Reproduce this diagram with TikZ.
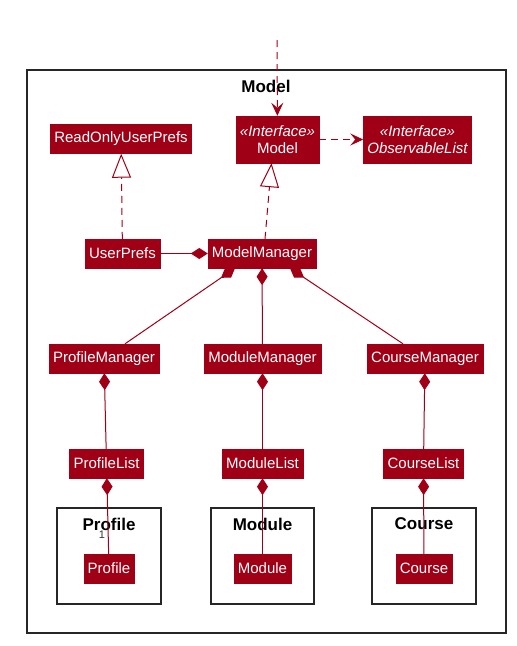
\documentclass[tikz,border=0pt]{standalone}
\usepackage{fontspec}
\setmainfont{Liberation Sans}
\usetikzlibrary{arrows.meta}
\definecolor{modellrot}{HTML}{A00016}

\begin{document}
\begin{tikzpicture}[x=1pt,y=-1pt,
        klasse/.style={fill=modellrot,draw=modellrot,text=white,font=\fontsize{15}{17}\selectfont,
            minimum height=29pt,inner xsep=4pt,inner ysep=2pt},
        paket/.style={draw=black!85,line width=1.5pt},
        titel/.style={font=\fontsize{17}{20}\selectfont\bfseries},
        komp/.style={draw=modellrot,line width=1pt,{Diamond[length=17pt,width=11pt]}-},
        real/.style={draw=modellrot,line width=1pt,dash pattern=on 7pt off 5pt,
            -{Triangle[open,length=24pt,width=19pt,fill=white]}},
        abh/.style={draw=modellrot,line width=1pt,dash pattern=on 7pt off 5pt,
            -{Stealth[length=13pt,width=12pt,inset=5pt]}}]
    \useasboundingbox (0,0) rectangle (517,646);

    % Paket Model
    \draw[paket] (27,70) rectangle (506,633);
    \node[titel] (mtitel) at (266,86) {Model};

    % Unterpakete
    \foreach \n/\t/\xl/\xr in {profile/Profile/57/161,module/Module/211/314,course/Course/372/476} {
        \draw[paket] (\xl,508) rectangle (\xr,604);
        \node[titel] (t\n) at ({(\xl+\xr)/2},524) {\t};
    }

    % Klassen
    \node[klasse,align=center,minimum height=47pt] (model) at (277.5,139.5) {\textit{«Interface»}\\Model};
    \node[klasse,align=center,minimum height=47pt,font=\fontsize{15}{17}\selectfont\itshape] (obs) at (417.5,139.5) {«Interface»\\ObservableList};
    \node[klasse] (roup) at (121,139) {ReadOnlyUserPrefs};
    \node[klasse] (up) at (122.5,253.5) {UserPrefs};
    \node[klasse] (mm) at (262,253.5) {ModelManager};

    \node[klasse] (pm) at (104,358.5) {ProfileManager};
    \node[klasse] (modm) at (262.5,358.5) {ModuleManager};
    \node[klasse] (cm) at (425,358.5) {CourseManager};

    \node[klasse] (pl) at (106.5,463.5) {ProfileList};
    \node[klasse] (ml) at (262.5,463.5) {ModuleList};
    \node[klasse] (cl) at (423.5,463.5) {CourseList};

    \node[klasse] (profile) at (109,568.5) {Profile};
    \node[klasse] (module) at (262.5,568.5) {Module};
    \node[klasse] (course) at (424,568.5) {Course};

    \coordinate (ein) at (277,40);

    % Verbindungen
    \draw[abh] (ein) -- (model);
    \draw[abh] (model) -- (obs);
    \draw[real] (up) -- (roup);
    \draw[real] ([xshift=3pt]mm.north) -- ([xshift=-6pt]model.south);
    \draw[komp] (mm) -- (up);
    \draw[komp] ([xshift=-27pt]mm.south) -- ([xshift=21pt]pm.north);
    \draw[komp] (mm) -- (modm);
    \draw[komp] ([xshift=28pt]mm.south) -- ([xshift=-22pt]cm.north);
    \draw[komp] (pm) -- (pl);
    \draw[komp] (modm) -- (ml);
    \draw[komp] (cm) -- (cl);
    \draw[komp] (pl) -- (profile);
    \draw[komp] (ml) -- (module);
    \draw[komp] (cl) -- (course);

    \node[font=\fontsize{11}{12}\selectfont,text=black!80] (eins) at (102,535) {1};
\end{tikzpicture}
\end{document}
